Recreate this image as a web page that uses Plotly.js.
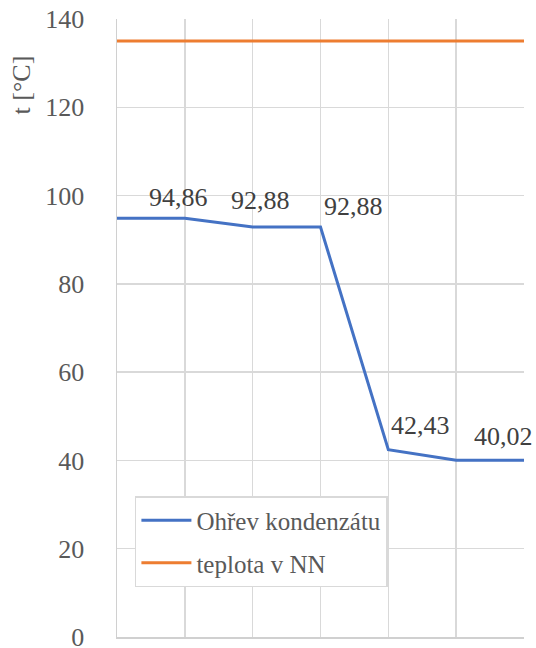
<!DOCTYPE html>
<html>
<head>
<meta charset="utf-8">
<script src="https://cdn.plot.ly/plotly-3.0.1.min.js"></script>
</head>
<body style="margin:0">
<div id="chart"></div>
<script>
const xPoints = [0, 1, 2, 3, 4, 5, 6];
const ohrev = [94.86, 94.86, 92.88, 92.88, 42.43, 40.02, 40.02];
const teplota = [135, 135, 135, 135, 135, 135, 135];
const labelIdx = [1, 2, 3, 4, 5];
const labelXShift = [-6, 8, 33, 32, 47];
const labelYShift = [21, 27, 21, 24, 24];
const yTicks = [0, 20, 40, 60, 80, 100, 120, 140];

const FAM = 'Times New Roman';
const GREY = '#595959';

const traces = [
  {
    x: xPoints, y: ohrev, name: 'Ohřev kondenzátu', mode: 'lines',
    line: {color: '#4472C4', width: 3}, legendgroup: 'a',
    hoverinfo: 'skip', cliponaxis: false
  },
  {
    x: xPoints, y: teplota, name: 'teplota v NN', mode: 'lines',
    line: {color: '#ED7D31', width: 3}, legendgroup: 'b',
    hoverinfo: 'skip', cliponaxis: false
  }
];

const annotations = labelIdx.map((idx, k) => ({
  x: xPoints[idx], y: ohrev[idx], xref: 'x', yref: 'y',
  text: ohrev[idx].toFixed(2).replace('.', ','),
  showarrow: false, xanchor: 'center', yanchor: 'middle',
  xshift: labelXShift[k], yshift: labelYShift[k],
  font: {family: FAM, size: 26, color: '#404040'}
}));

annotations.push({
  text: 't [°C]', xref: 'paper', yref: 'paper',
  x: -0.235, y: 0.893, xanchor: 'center', yanchor: 'middle',
  textangle: -90, showarrow: false,
  font: {family: FAM, size: 26, color: GREY}
});

const layout = {
  width: 536, height: 648,
  margin: {l: 117, r: 12, t: 19, b: 11},
  paper_bgcolor: '#fff', plot_bgcolor: '#fff',
  font: {family: FAM, color: GREY},
  showlegend: true,
  legend: {
    x: 0.044, y: 0.228, xanchor: 'left', yanchor: 'top',
    bgcolor: '#fff', bordercolor: '#d9d9d9', borderwidth: 1.5,
    font: {family: FAM, size: 25, color: GREY},
    itemwidth: 50, traceorder: 'grouped', tracegroupgap: 7
  },
  xaxis: {
    range: [0, 6], tickvals: xPoints, showticklabels: false,
    showgrid: true, gridcolor: '#d9d9d9', gridwidth: 1.5,
    zeroline: false, showline: true, linecolor: '#d0d0d0', linewidth: 1.5,
    ticks: ''
  },
  yaxis: {
    range: [0, 140], tickvals: yTicks,
    showgrid: true, gridcolor: '#d9d9d9', gridwidth: 1.5,
    zeroline: false, showline: true, linecolor: '#d0d0d0', linewidth: 1.5,
    ticks: '', ticklabelstandoff: 26, ticklabeloverflow: 'allow',
    tickfont: {family: FAM, size: 26, color: GREY}
  },
  annotations: annotations
};

Plotly.newPlot('chart', traces, layout, {staticPlot: true});
</script>
</body>
</html>
